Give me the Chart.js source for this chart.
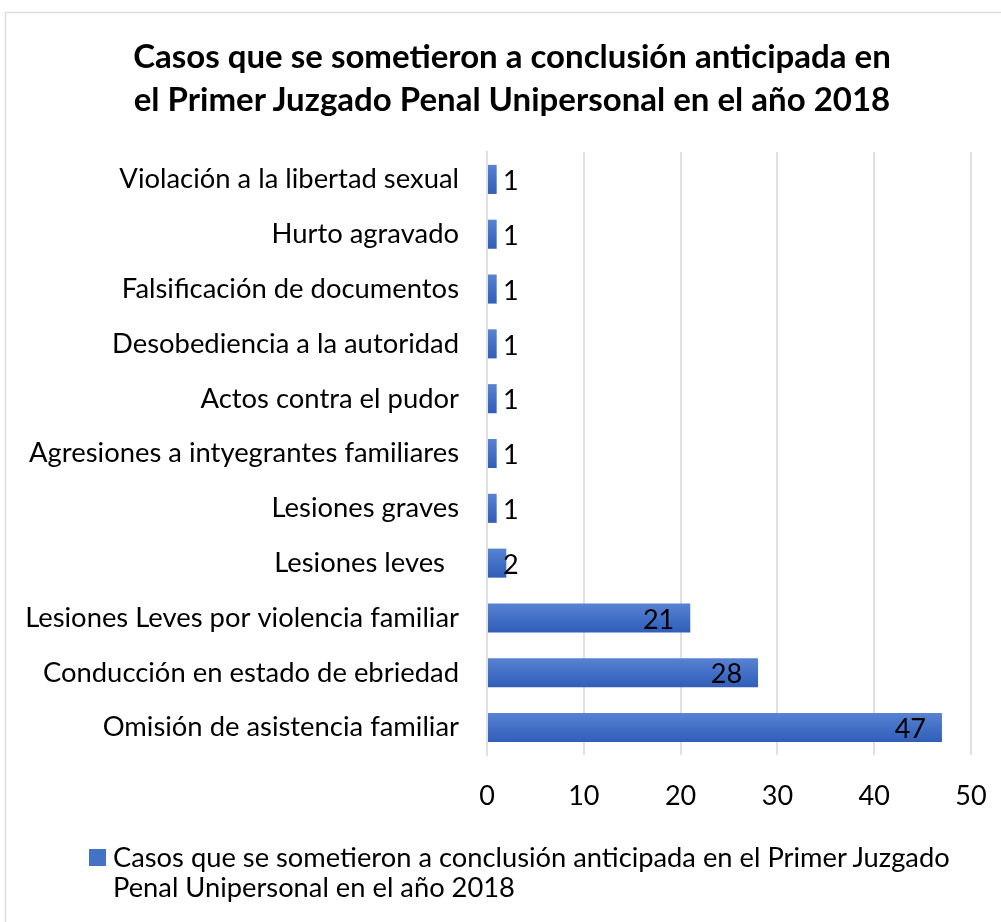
<!DOCTYPE html>
<html>
<head>
<meta charset="utf-8">
<script src="https://cdn.jsdelivr.net/npm/chart.js@4"></script>
<style>
	body { margin: 0; background: #fff; overflow: hidden; }
	#wrap { position: relative; width: 1001px; height: 922px; }
	#title { position: absolute; left: 112px; width: 800px; top: 34px; text-align: center; font-family: Lato, sans-serif; font-weight: bold; font-size: 33px; line-height: 43px; color: #000; white-space: nowrap; }
	#legend { position: absolute; left: 89px; top: 842px; font-family: Lato, sans-serif; font-size: 27.3px; line-height: 30px; color: #000; }
	#legend .box { position: absolute; left: 0; top: 7px; width: 17px; height: 17px; background: #4472c4; }
	#legend .txt { margin-left: 24px; white-space: nowrap; }
</style>
</head>
<body>
<div id="wrap">
	<canvas id="mycanvas" width="1001" height="922"></canvas>
	<div id="title"></div>
	<div id="legend"><span class="box"></span><div class="txt"></div></div>
</div>
<script>
var categories = [
	"Violación a la libertad sexual",
	"Hurto agravado",
	"Falsificación de documentos",
	"Desobediencia a la autoridad",
	"Actos contra el pudor",
	"Agresiones a intyegrantes familiares",
	"Lesiones graves",
	"Lesiones leves  ",
	"Lesiones Leves por violencia familiar",
	"Conducción en estado de ebriedad",
	"Omisión de asistencia familiar"
];
var casos = [1, 1, 1, 1, 1, 1, 1, 2, 21, 28, 47];
var xTicks = [0, 10, 20, 30, 40, 50];
var titleLines = [
	"Casos que se sometieron a conclusión anticipada en",
	"el Primer Juzgado Penal Unipersonal en el año 2018"
];
var serieLines = [
	"Casos que se sometieron a conclusión anticipada en el Primer Juzgado",
	"Penal Unipersonal en el año 2018"
];

var FONT = "Lato, sans-serif";

// title and legend as page text
document.getElementById('title').innerHTML = titleLines.join('<br>');
document.querySelector('#legend .txt').innerHTML = serieLines.join('<br>');

// gray frame round the chart
var framePlugin = {
	id: 'frame',
	beforeDraw: function(chart) {
		var c = chart.ctx;
		c.save();
		c.strokeStyle = '#d9dde3';
		c.lineWidth = 1.5;
		c.strokeRect(5.5, 12.5, 1200, 1200);
		c.restore();
	}
};

// value labels: inside end for long bars, outside for short ones
var labelPlugin = {
	id: 'barLabels',
	afterDatasetsDraw: function(chart) {
		var c = chart.ctx;
		var meta = chart.getDatasetMeta(0);
		c.save();
		c.font = '27px ' + FONT;
		c.fillStyle = '#000';
		c.textBaseline = 'middle';
		meta.data.forEach(function(bar, i) {
			var v = chart.data.datasets[0].data[i];
			if (v >= 10) {
				c.textAlign = 'right';
				c.fillText(v, bar.x - 16, bar.y + 2);
			} else {
				c.textAlign = 'left';
				c.fillText(v, bar.base + 15, bar.y + 2);
			}
		});
		c.restore();
	}
};

function barFill(context) {
	var chart = context.chart;
	if (!chart.chartArea) return '#4472c4';
	var y = chart.scales.y.getPixelForValue(context.dataIndex);
	var g = chart.ctx.createLinearGradient(0, y - 15, 0, y + 15);
	g.addColorStop(0, '#5a83d2');
	g.addColorStop(0.5, '#4370c6');
	g.addColorStop(1, '#305db7');
	return g;
}

var ctx = document.getElementById('mycanvas');
var barGraph = new Chart(ctx, {
	type: 'bar',
	data: {
		labels: categories,
		datasets: [{
			label: serieLines.join(' '),
			data: casos,
			backgroundColor: barFill,
			borderWidth: 0,
			barPercentage: 0.53,
			categoryPercentage: 1
		}]
	},
	options: {
		indexAxis: 'y',
		responsive: false,
		animation: false,
		layout: { padding: { left: 0, right: 30, top: 152, bottom: 107 } },
		plugins: {
			legend: { display: false },
			tooltip: { enabled: false },
			title: { display: false }
		},
		scales: {
			x: {
				min: 0,
				max: 50,
				afterBuildTicks: function(scale) {
					scale.ticks = xTicks.map(function(v) { return { value: v }; });
				},
				afterFit: function(scale) {
					scale.height = 60;
					scale.paddingLeft = 0;
					scale.paddingRight = 0;
				},
				grid: { color: '#dde1e6', lineWidth: 2, drawTicks: false },
				border: { display: false },
				ticks: { color: '#000', padding: 25, font: { family: FONT, size: 27 } }
			},
			y: {
				afterFit: function(scale) {
					scale.width = 487;
					scale.paddingTop = 0;
					scale.paddingBottom = 0;
				},
				grid: { display: false, drawTicks: false },
				border: { display: true, color: '#dde1e6', width: 2 },
				ticks: { color: '#000', padding: 28, font: { family: FONT, size: 27.4 }, autoSkip: false }
			}
		}
	},
	plugins: [framePlugin, labelPlugin]
});
</script>
</body>
</html>
